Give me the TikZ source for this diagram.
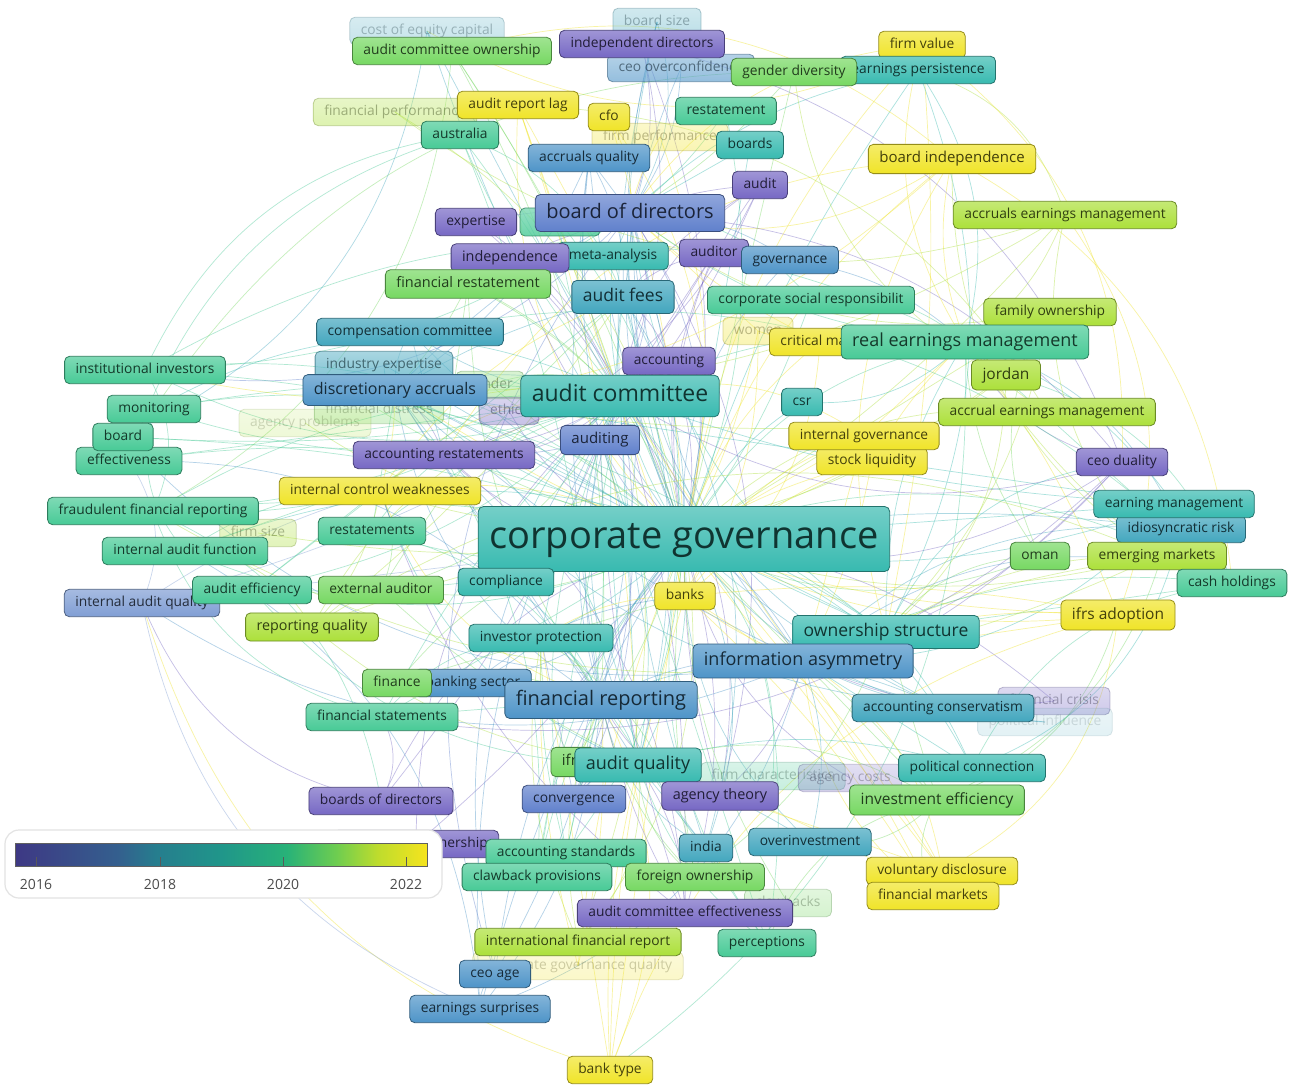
\documentclass[tikz,border=0pt]{standalone}
\usepackage{fontspec}
\setmainfont{Open Sans}
\pgfdeclarelayer{bg}
\pgfdeclarelayer{edges}
\pgfsetlayers{bg,edges,main}

% keyword colours along the publication-year scale
\definecolor{vP}{RGB}{118,104,196}
\definecolor{vBP}{RGB}{96,128,204}
\definecolor{vB}{RGB}{78,148,200}
\definecolor{vLB}{RGB}{128,158,212}
\definecolor{vBT}{RGB}{66,166,190}
\definecolor{vT}{RGB}{56,186,176}
\definecolor{vGT}{RGB}{72,202,150}
\definecolor{vG}{RGB}{118,216,98}
\definecolor{vYG}{RGB}{172,224,58}
\definecolor{vY}{RGB}{240,228,40}

\pgfdeclarehorizontalshading{viridis}{100bp}{%
 rgb(0bp)=(0.243,0.220,0.518); rgb(25bp)=(0.243,0.220,0.518);
 rgb(37.5bp)=(0.204,0.373,0.557); rgb(42bp)=(0.149,0.490,0.557);
 rgb(50bp)=(0.125,0.588,0.541); rgb(58bp)=(0.157,0.698,0.471);
 rgb(64bp)=(0.431,0.804,0.314); rgb(69bp)=(0.745,0.863,0.176);
 rgb(75bp)=(0.961,0.894,0.118); rgb(100bp)=(0.961,0.894,0.118)}

\tikzset{
 kwbox/.style={draw=#1!62!black, top color=#1!70!white, bottom color=#1,
   text=#1!28!black, rounded corners=5pt, inner xsep=11pt, inner ysep=0pt,
   line width=0.8pt},
 edge/.style={line width=0.7pt, opacity=0.42},
}

% font size of the ordinary keyword labels
\def\sm{13.8}
% keyword label: name, x, y, colour, font size, text
\newcommand\kw[6]{%
 \node[kwbox=#4,font=\fontsize{#5}{#5}\selectfont,text height={0.72*#5},text depth={0.2*#5},
   minimum height={1.55*#5+6}] (#1) at (#2,#3) {#6};%
 \expandafter\gdef\csname kc@#1\endcsname{#4}}
% faded keyword label: as above plus opacity
\newcommand\kwf[7]{%
 \node[kwbox=#4,opacity=#7,font=\fontsize{#5}{#5}\selectfont,text height={0.72*#5},text depth={0.2*#5},
   minimum height={1.55*#5+6}] (#1) at (#2,#3) {#6};%
 \expandafter\gdef\csname kc@#1\endcsname{#4}}
% links from one hub keyword to a list of keywords
\newcommand\hubedges[2]{%
 \foreach \t [count=\i] in {#2}{%
  \pgfmathtruncatemacro\bb{mod(\i,7)*8-24}%
  \edef\cc{\csname kc@\t\endcsname}%
  \draw[edge,draw=\cc] (#1.center) to[bend left=\bb] (\t.center);}}

\begin{document}
\begin{tikzpicture}[x=1pt,y=-1pt]
\begin{pgfonlayer}{bg}
\fill[white] (0,0) rectangle (1296,1086);
\end{pgfonlayer}
\useasboundingbox (0,0) rectangle (1296,1086);

% faded keywords in the background
\kwf{coec}{427}{31}{vBT}{\sm}{cost of equity capital}{0.3}
\kwf{bsz}{657}{22}{vBT}{\sm}{board size}{0.35}
\kwf{ceoo}{681}{68}{vB}{\sm}{ceo overconfidence}{0.6}
\kwf{fperf}{395}{112}{vYG}{\sm}{financial performance}{0.4}
\kwf{firmp}{660}{137}{vY}{\sm}{firm performance}{0.35}
\node[kwbox=vGT,opacity=0.8,minimum width=80pt,minimum height=28pt] (hid) at (560,222) {};
\expandafter\gdef\csname kc@hid\endcsname{vGT}
\kwf{women}{758}{331}{vY}{\sm}{women}{0.35}
\kwf{gend}{490}{385}{vG}{\sm}{gender}{0.4}
\kwf{fdist}{379}{410}{vG}{\sm}{financial distress}{0.3}
\kwf{agcy}{305}{423}{vYG}{\sm}{agency problems}{0.2}
\kwf{ethi}{509}{411}{vP}{\sm}{ethics}{0.4}
\kwf{fsize}{258}{533}{vYG}{\sm}{firm size}{0.35}
\kwf{fcris}{1054}{701}{vP}{\sm}{financial crisis}{0.35}
\kwf{pinf}{1045}{722}{vBT}{\sm}{political influence}{0.15}
\kwf{fchar}{773}{776}{vGT}{\sm}{firm characteristics}{0.3}
\kwf{acost}{850}{778}{vP}{\sm}{agency costs}{0.3}
\kwf{clawb}{788}{903}{vG}{\sm}{clawbacks}{0.3}
\kwf{cgq}{578}{966}{vY}{\sm}{corporate governance quality}{0.25}
\kwf{indexp}{384}{365}{vBT}{\sm}{industry expertise}{0.65}

% keywords
\kw{acow}{452}{51}{vG}{\sm}{audit committee ownership}
\kw{indd}{642}{44}{vP}{\sm}{independent directors}
\kw{fval}{922}{45}{vY}{\sm}{firm value}
\kw{eper}{918}{70}{vT}{\sm}{earnings persistence}
\kw{gdiv}{794}{72}{vG}{\sm}{gender diversity}
\kw{arl}{518}{105}{vY}{\sm}{audit report lag}
\kw{cfo}{609}{117}{vY}{\sm}{cfo}
\kw{rst}{726}{111}{vGT}{\sm}{restatement}
\kw{aus}{460}{135}{vGT}{\sm}{australia}
\kw{boards}{750}{145}{vT}{\sm}{boards}
\kw{accq}{589}{158}{vB}{\sm}{accruals quality}
\kw{bind}{952}{159}{vY}{15}{board independence}
\kw{audit}{760}{185}{vP}{\sm}{audit}
\kw{bod}{630}{213}{vBP}{20}{board of directors}
\kw{exp}{476}{222}{vP}{\sm}{expertise}
\kw{aem}{1065}{215}{vYG}{\sm}{accruals earnings management}
\kw{meta}{613}{256}{vT}{\sm}{meta-analysis}
\kw{indep}{510}{258}{vP}{14.4}{independence}
\kw{audr}{714}{253}{vP}{\sm}{auditor}
\kw{gov}{790}{260}{vB}{\sm}{governance}
\kw{frest}{468}{284}{vG}{14.5}{financial restatement}
\kw{afees}{623}{297}{vBT}{17.5}{audit fees}
\kw{csrr}{811}{300}{vGT}{\sm}{corporate social responsibilit}
\kw{fown}{1050}{312}{vYG}{\sm}{family ownership}
\kw{comp}{410}{332}{vBT}{\sm}{compensation committee}
\kw{crit}{820}{342}{vY}{\sm}{critical mass}
\kw{rem}{965}{342}{vGT}{18}{real earnings management}
\kw{inst}{145}{370}{vGT}{\sm}{institutional investors}
\kw{acct}{669}{361}{vP}{\sm}{accounting}
\kw{jord}{1006}{375}{vYG}{15.5}{jordan}
\kw{dacc}{395}{390}{vB}{16}{discretionary accruals}
\kw{ac}{620}{396}{vT}{23}{audit committee}
\kw{csr}{802}{402}{vT}{\sm}{csr}
\kw{aem2}{1047}{412}{vYG}{\sm}{accrual earnings management}
\kw{mon}{154}{409}{vGT}{\sm}{monitoring}
\kw{eff}{129}{461}{vGT}{\sm}{effectiveness}
\kw{board}{123}{437}{vGT}{\sm}{board}
\kw{slq}{872}{461}{vY}{\sm}{stock liquidity}
\kw{igov}{864}{436}{vY}{\sm}{internal governance}
\kw{audng}{600}{440}{vBP}{15}{auditing}
\kw{accr}{444}{455}{vP}{\sm}{accounting restatements}
\kw{ceod}{1122}{462}{vP}{\sm}{ceo duality}
\kw{icw}{380}{491}{vY}{\sm}{internal control weaknesses}
\kw{ffr}{153}{511}{vGT}{\sm}{fraudulent financial reporting}
\kw{idio}{1181}{529}{vBT}{\sm}{idiosyncratic risk}
\kw{earnm}{1174}{504}{vT}{\sm}{earning management}
\kw{rsts}{372}{531}{vGT}{\sm}{restatements}
\kw{cg}{684}{539}{vT}{38}{corporate governance}
\kw{iaf}{185}{551}{vGT}{\sm}{internal audit function}
\kw{oman}{1040}{556}{vG}{\sm}{oman}
\kw{emk}{1157}{556}{vYG}{\sm}{emerging markets}
\kw{comp2}{506}{582}{vT}{\sm}{compliance}
\kw{iaq}{142}{603}{vLB}{\sm}{internal audit quality}
\kw{aeff}{252}{590}{vGT}{\sm}{audit efficiency}
\kw{eaud}{381}{590}{vG}{\sm}{external auditor}
\kw{cash}{1232}{583}{vGT}{\sm}{cash holdings}
\kw{banks}{685}{596}{vY}{\sm}{banks}
\kw{ifrsa}{1118}{615}{vY}{15.5}{ifrs adoption}
\kw{rq}{312}{627}{vYG}{14.3}{reporting quality}
\kw{owns}{886}{632}{vT}{17.5}{ownership structure}
\kw{invp}{541}{638}{vT}{\sm}{investor protection}
\kw{ia}{803}{661}{vB}{18}{information asymmetry}
\kw{bsec}{473}{683}{vB}{\sm}{banking sector}
\kw{fin}{397}{683}{vG}{\sm}{finance}
\kw{fr}{601}{700}{vB}{20}{financial reporting}
\kw{acons}{943}{708}{vBT}{\sm}{accounting conservatism}
\kw{fst}{382}{717}{vGT}{\sm}{financial statements}
\kw{ifrs}{573}{762}{vG}{15}{ifrs}
\kw{aq}{638}{765}{vT}{18}{audit quality}
\kw{pcon}{972}{768}{vT}{\sm}{political connection}
\kw{bodir}{381}{801}{vP}{\sm}{boards of directors}
\kw{conv}{574}{799}{vBP}{\sm}{convergence}
\kw{agth}{720}{796}{vP}{14.4}{agency theory}
\kw{ieff}{937}{800}{vG}{15.5}{investment efficiency}
\kw{mown}{416}{844}{vP}{\sm}{managerial ownership}
\kw{astd}{566}{853}{vGT}{\sm}{accounting standards}
\kw{india}{706}{848}{vBT}{\sm}{india}
\kw{oinv}{810}{842}{vBT}{\sm}{overinvestment}
\kw{claw}{537}{877}{vGT}{\sm}{clawback provisions}
\kw{fown2}{695}{877}{vG}{\sm}{foreign ownership}
\kw{vdis}{942}{871}{vY}{\sm}{voluntary disclosure}
\kw{fmkt}{933}{896}{vY}{\sm}{financial markets}
\kw{ace}{685}{913}{vP}{\sm}{audit committee effectiveness}
\kw{ifr}{578}{942}{vYG}{\sm}{international financial report}
\kw{perc}{767}{943}{vGT}{\sm}{perceptions}
\kw{ceoa}{495}{974}{vB}{\sm}{ceo age}
\kw{esur}{480}{1009}{vB}{\sm}{earnings surprises}
\kw{btype}{610}{1070}{vY}{\sm}{bank type}

% co-occurrence links, behind the labels
\begin{pgfonlayer}{edges}
\hubedges{cg}{indd,acow,gdiv,eper,fval,arl,cfo,rst,aus,boards,accq,bind,audit,bod,exp,aem,meta,indep,audr,gov,
 frest,afees,csrr,fown,comp,crit,rem,inst,acct,jord,dacc,ac,csr,aem2,mon,eff,board,igov,slq,audng,accr,ceod,icw,
 ffr,earnm,idio,rsts,iaf,oman,emk,comp2,iaq,aeff,eaud,cash,banks,ifrsa,rq,owns,invp,ia,bsec,fin,fr,acons,fst,ifrs,
 aq,pcon,bodir,conv,agth,ieff,mown,astd,india,oinv,claw,fown2,vdis,fmkt,ace,ifr,perc,ceoa,esur,btype,coec,bsz,
 ceoo,fperf,firmp,women,indexp,fsize,fcris,fchar,acost,clawb,cgq,gend,fdist,agcy,ethi,pinf,hid}
\hubedges{ac}{indd,acow,arl,aus,accq,audit,bod,exp,indep,audr,afees,comp,inst,acct,dacc,mon,eff,board,audng,accr,
 icw,ffr,rsts,iaf,iaq,aeff,eaud,rq,fr,fst,aq,bodir,conv,agth,mown,astd,india,claw,ace,ifr,perc,ceoa,esur,frest,
 coec,bsz,rem,igov,ceod,acons,earnm,vdis,meta,hid,ethi,gend,comp2,invp}
\hubedges{bod}{indd,gdiv,boards,audit,eper,fval,bind,cfo,rst,accq,afees,gov,csrr,fown,rem,crit,women,firmp,inst,
 ceod,owns,ia,dacc,acct,fr,aq,agth,bsz,ceoo,exp,indep,meta}
\hubedges{fr}{acow,aus,dacc,accq,frest,icw,rsts,fin,bsec,fst,ifrs,aq,conv,agth,ifr,claw,astd,ceoa,esur,btype,
 india,fown2,ace,perc,cgq,ia,acons,invp,comp2}
\hubedges{aq}{afees,arl,dacc,eaud,rq,aeff,conv,ifrs,agth,india,oinv,ace,ifr,fown2,perc,btype,vdis,fmkt,pcon,ieff}
\hubedges{ia}{owns,acons,pcon,ieff,oinv,vdis,fmkt,fcris,pinf,ifrsa,emk,cash,idio,earnm,ceod,slq,igov,banks,agth}
\hubedges{rem}{aem,aem2,jord,fown,bind,fval,eper,oman,emk,cash,ifrsa,earnm,idio,ceod,owns,slq,igov,crit,women,
 csr,csrr,gov}
\hubedges{dacc}{accq,frest,rsts,icw,accr,aq,fr,aem,aem2,earnm,afees,comp,indexp,acons,ifrsa,ia,owns}
\hubedges{afees}{accq,aq,arl,audit,audr,india,aus,icw,eaud,aeff,rq,acct}
\hubedges{owns}{fown,fval,cash,ifrsa,emk,oman,jord,inst,ceod,ieff,pcon,fown2,bind,eper}
\hubedges{accr}{icw,rsts,frest,ffr,claw,ace,audit,acct,audng,comp,mon}
\hubedges{audng}{acct,audit,audr,accq,aq,conv,india,fr,ace,perc,astd}
\hubedges{icw}{iaf,iaq,aeff,ffr,rq,eaud,aq,ace}
\hubedges{invp}{ifrs,astd,conv,bsec,banks,fown2,fst,ifr,cgq,btype}
\hubedges{banks}{bsec,btype,fin,ifrsa,slq,igov,crit,women,cfo,arl,fmkt,vdis}
\foreach \a/\b [count=\i] in {inst/rem,inst/bod,mon/ac,ffr/emk,iaf/owns,iaq/ia,eff/fr,board/ia,comp/cash,
 coec/fval,acow/bind,fperf/aem,arl/aem2,bsz/ia,indd/ceod,gdiv/jord,eper/aem,bind/emk,aem/ifrsa,fown/oman,
 jord/cash,ceod/owns,earnm/ieff,cash/ia,ifrsa/ieff,esur/ia,btype/ifrsa,btype/rem,ceoa/bod,fst/ceod,rq/emk,
 icw/jord,accr/bind,dacc/earnm,inst/ffr,mon/iaf,eff/iaq,ffr/fst,iaf/rq,inst/bind,mon/gdiv,ffr/acow,iaf/esur,
 iaq/btype,eff/aus,bodir/ffr,esur/iaq,cash/bind,emk/aem,ceod/fval,pcon/cash,vdis/ifrsa,fmkt/ieff,board/coec,
 inst/aus,iaq/bodir,fst/bodir,ceoa/esur,perc/ieff,oinv/ieff,idio/pcon}{%
  \pgfmathtruncatemacro\bb{mod(\i,2)*56-28}%
  \edef\cc{\csname kc@\b\endcsname}%
  \draw[edge,draw=\cc] (\a.center) to[bend left=\bb] (\b.center);}
\end{pgfonlayer}

% colour scale for the average publication year
\node[draw=gray!22, line width=1.2pt, rounded corners=14pt, fill=white,
      minimum width=437pt, minimum height=68pt] (legend) at (223.5,864) {};
\shade[shading=viridis] (15,843) rectangle (427,866);
\draw[gray!75!black, line width=0.6pt] (15,843) rectangle (427,866);
\foreach \x/\yr in {36/2016,160/2018,283/2020,406/2022}{%
  \draw[gray!70!black, line width=0.8pt] (\x,857) -- (\x,866);
  \node[font=\fontsize{14}{14}\selectfont, text=black!70] at (\x,884) {\yr};}
\end{tikzpicture}
\end{document}
